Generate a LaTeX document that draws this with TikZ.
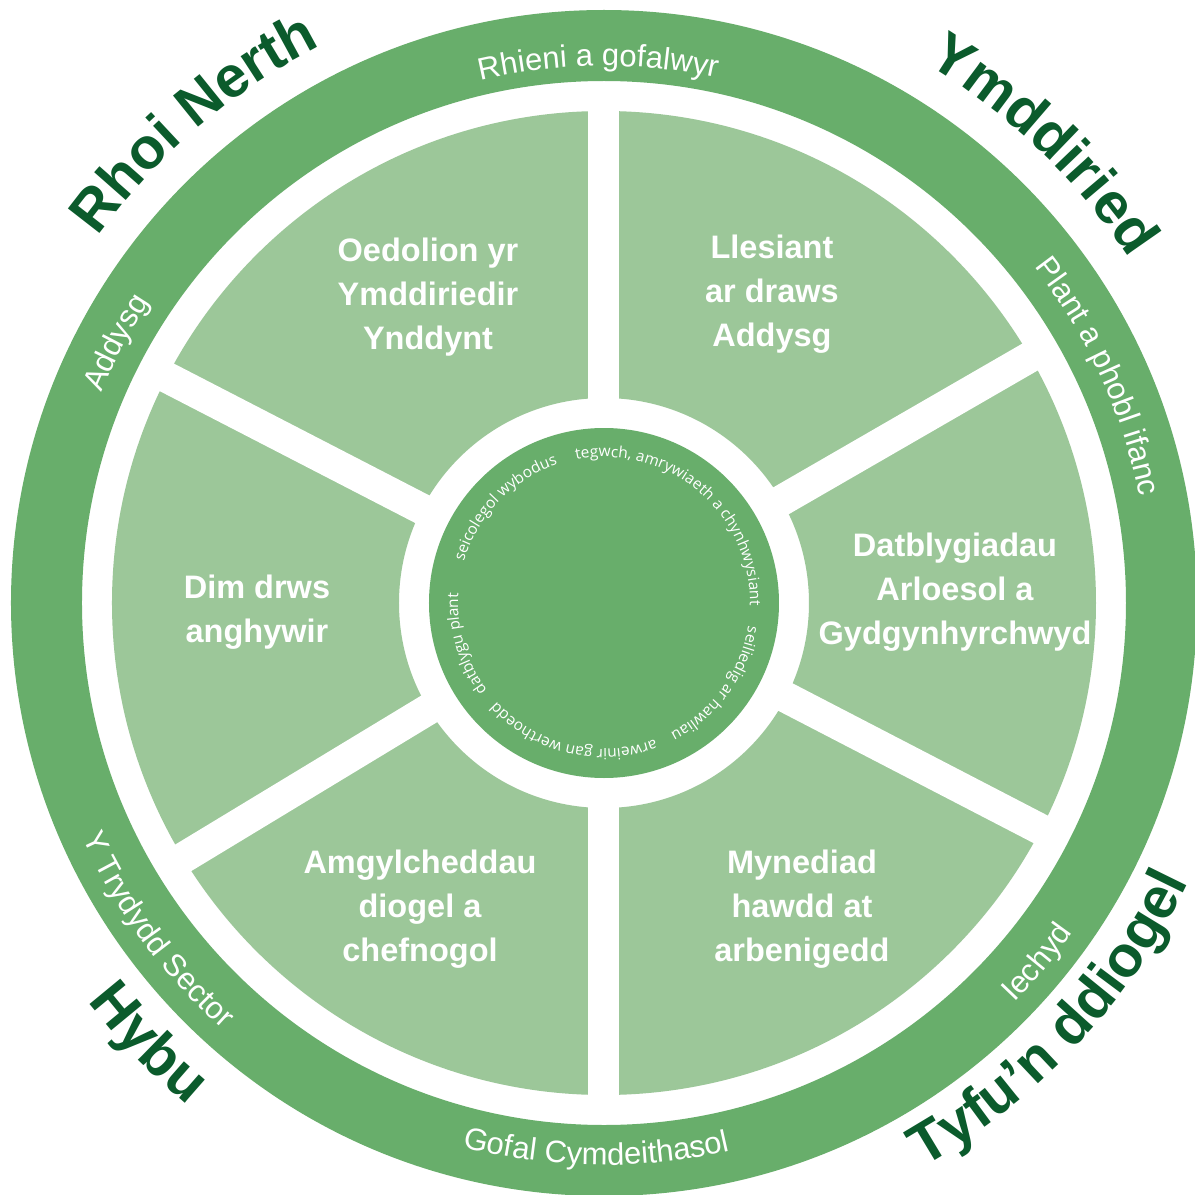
\documentclass[tikz,border=0pt]{standalone}
\usepackage{fontspec}
\setmainfont{Liberation Sans}
\newfontfamily\hubface{Open Sans}
\usetikzlibrary{decorations.text}
\definecolor{ringgreen}{HTML}{68AE6B}
\definecolor{sectorgreen}{HTML}{9CC799}
\definecolor{darkgreen}{HTML}{0B5B2C}
\newcommand{\ringfont}{\fontsize{31}{32}\selectfont\color{white}}
\newcommand{\bigfont}{\fontsize{58}{60}\selectfont\bfseries\color{darkgreen}}
\newcommand{\hubfont}{\hubface\fontsize{15.5}{16}\selectfont\color{white}}

\begin{document}
\begin{tikzpicture}[
  x=1pt, y=1pt,
  sectortext/.style={
    text=white,
    align=center,
    font=\fontsize{32.5}{44}\selectfont\bfseries
  },
  gap/.style={white, line width=31pt},
  arclabel/.style 2 args={
    decorate,
    decoration={text along path, text align=center, text={|#1|#2}}
  }
]
  \fill[white] (-604,-592) rectangle (591,603);
  \useasboundingbox (-604,-592) rectangle (591,603);

  % outer ring and sectors
  \fill[ringgreen, even odd rule] (0,0) circle[radius=593pt] (0,0) circle[radius=522pt];
  \fill[sectorgreen, even odd rule] (0,0) circle[radius=492pt] (0,0) circle[radius=205pt];
  \draw[gap] (90:180pt) -- (90:505pt);
  \draw[gap] (270:180pt) -- (270:505pt);
  \draw[gap] (30:180pt) -- (30:505pt);
  \draw[gap] (332.6:180pt) -- (332.6:505pt);
  \draw[gap] (152.7:180pt) -- (152.7:505pt);
  \draw[gap] (211.2:180pt) -- (211.2:505pt);
  \fill[ringgreen] (0,0) circle[radius=175pt];

  % sector labels
  \node[sectortext] (oedolion)     at (-176,306) {Oedolion yr\\Ymddiriedir\\Ynddynt};
  \node[sectortext] (llesiant)     at (168,309)  {Llesiant\\ar draws\\Addysg};
  \node[sectortext] (datblygiadau) at (351,11)   {Datblygiadau\\Arloesol a\\Gydgynhyrchwyd};
  \node[sectortext] (dimdrws)      at (-347,-9)  {Dim drws\\anghywir};
  \node[sectortext] (amgylcheddau) at (-184,-306) {Amgylcheddau\\diogel a\\chefnogol};
  \node[sectortext] (mynediad)     at (198,-306) {Mynediad\\hawdd at\\arbenigedd};

  % ring labels
  \path[arclabel={\ringfont}{Rhieni a gofalwyr}] (120.6:537pt) arc[start angle=120.6, end angle=60.6, radius=537pt];
  \path[arclabel={\ringfont}{Plant a phobl ifanc}] (54.6:546pt) arc[start angle=54.6, end angle=-5.4, radius=546pt];
  \path[arclabel={\ringfont}{Addysg}] (181.9:545pt) arc[start angle=181.9, end angle=121.9, radius=545pt];
  \path[arclabel={\ringfont}{Y Trydydd Sector}] (186.2:572pt) arc[start angle=186.2, end angle=246.2, radius=572pt];
  \path[arclabel={\ringfont}{Gofal Cymdeithasol}] (239.2:562pt) arc[start angle=239.2, end angle=299.2, radius=562pt];
  \path[arclabel={\ringfont}{Iechyd}] (290.3:573pt) arc[start angle=290.3, end angle=350.3, radius=573pt];

  % corner labels
  \path[arclabel={\bigfont}{Rhoi Nerth}] (160.5:625pt) arc[start angle=160.5, end angle=100.5, radius=625pt];
  \path[arclabel={\bigfont}{Ymddiried}] (76.2:628pt) arc[start angle=76.2, end angle=16.2, radius=628pt];
  \path[arclabel={\bigfont}{Hybu}] (194:652pt) arc[start angle=194, end angle=254, radius=652pt];
  \path[arclabel={\bigfont}{Tyfu’n ddiogel}] (287:648pt) arc[start angle=287, end angle=347, radius=648pt];

  % centre circle text
  \path[arclabel={\hubfont}{seicolegol wybodus}] (176:146pt) arc[start angle=176, end angle=96, radius=146pt];
  \path[arclabel={\hubfont}{tegwch, amrywiaeth a chynhwysiant}] (120:146pt) arc[start angle=120, end angle=-20, radius=146pt];
  \path[arclabel={\hubfont}{seiliedig ar hawliau}] (10:146pt) arc[start angle=10, end angle=-82, radius=146pt];
  \path[arclabel={\hubfont}{arweinir gan werthoedd}] (-53.5:146pt) arc[start angle=-53.5, end angle=-153.5, radius=146pt];
  \path[arclabel={\hubfont}{datblygu plant}] (236.5:146pt) arc[start angle=236.5, end angle=156.5, radius=146pt];
\end{tikzpicture}
\end{document}
